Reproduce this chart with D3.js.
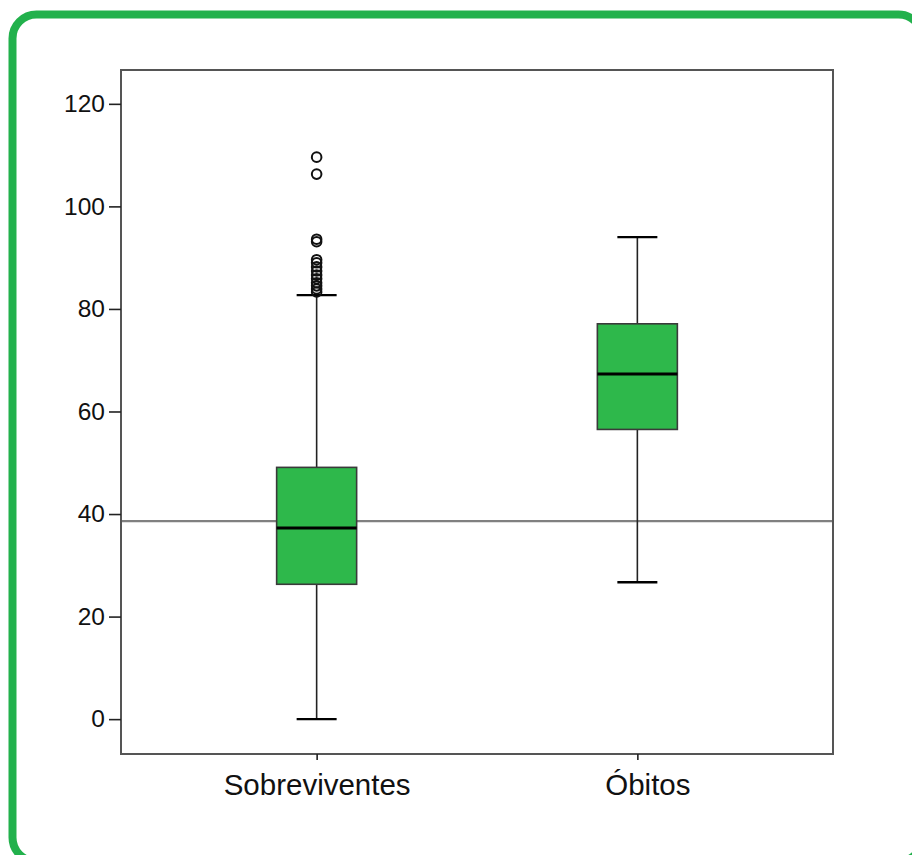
<!DOCTYPE html>
<html>
<head>
<meta charset="utf-8">
<script src="https://cdn.jsdelivr.net/npm/d3@7"></script>
<style>
  html, body { margin: 0; padding: 0; background: #fff; }
  svg { display: block; font-family: Arial, "Liberation Sans", sans-serif; }
</style>
</head>
<body>
<svg id="chart" width="912" height="855"></svg>
<script>
// ---- data ----
const categories = ["Sobreviventes", "Óbitos"];
const whiskerLow  = [0, 26.7];
const q1          = [26.3, 56.5];
const median      = [37.3, 67.3];
const q3          = [49.1, 77.1];
const whiskerHigh = [82.7, 94.0];
const outliersSobreviventes = [109.6, 106.3, 93.6, 93.1, 89.6, 89.0, 88.2, 87.4, 86.6, 85.9, 85.1, 84.5, 83.9, 83.3];
const outliersObitos = [];
const referenceLine = 38.6;
const yTicks = [0, 20, 40, 60, 80, 100, 120];

const outliers = [outliersSobreviventes, outliersObitos];
const boxes = categories.map((c, i) => ({
  cat: c, lo: whiskerLow[i], q1: q1[i], med: median[i], q3: q3[i], hi: whiskerHigh[i], out: outliers[i]
}));

// ---- layout ----
const svg = d3.select("#chart");
const plot = { left: 121, top: 70, right: 833, bottom: 754 };

// outer rounded green frame
svg.append("rect")
  .attr("x", 12.5).attr("y", 14.5)
  .attr("width", 910).attr("height", 847)
  .attr("rx", 24).attr("ry", 24)
  .attr("fill", "none")
  .attr("stroke", "#22b14c")
  .attr("stroke-width", 8);

const y = d3.scaleLinear().domain([-6.8, 126.6]).range([plot.bottom, plot.top]);
const x = d3.scalePoint().domain(categories).range([plot.left, plot.right]).padding(0.61);
const boxW = 80, capW = 40;

// reference line
svg.append("line")
  .attr("x1", plot.left).attr("x2", plot.right)
  .attr("y1", y(referenceLine)).attr("y2", y(referenceLine))
  .attr("stroke", "#808080").attr("stroke-width", 2.2);

const g = svg.selectAll("g.box").data(boxes).join("g").attr("class", "box");

// whiskers
g.append("line")
  .attr("x1", d => x(d.cat)).attr("x2", d => x(d.cat))
  .attr("y1", d => y(d.q3)).attr("y2", d => y(d.hi))
  .attr("stroke", "#222").attr("stroke-width", 1.6);
g.append("line")
  .attr("x1", d => x(d.cat)).attr("x2", d => x(d.cat))
  .attr("y1", d => y(d.q1)).attr("y2", d => y(d.lo))
  .attr("stroke", "#222").attr("stroke-width", 1.6);
// caps
g.append("line")
  .attr("x1", d => x(d.cat) - capW / 2).attr("x2", d => x(d.cat) + capW / 2)
  .attr("y1", d => y(d.hi)).attr("y2", d => y(d.hi))
  .attr("stroke", "#000").attr("stroke-width", 2.4);
g.append("line")
  .attr("x1", d => x(d.cat) - capW / 2).attr("x2", d => x(d.cat) + capW / 2)
  .attr("y1", d => y(d.lo)).attr("y2", d => y(d.lo))
  .attr("stroke", "#000").attr("stroke-width", 2.4);
// box
g.append("rect")
  .attr("x", d => x(d.cat) - boxW / 2)
  .attr("y", d => y(d.q3))
  .attr("width", boxW)
  .attr("height", d => y(d.q1) - y(d.q3))
  .attr("fill", "#2eb84b")
  .attr("stroke", "#3a3a3a").attr("stroke-width", 1.6);
// median
g.append("line")
  .attr("x1", d => x(d.cat) - boxW / 2).attr("x2", d => x(d.cat) + boxW / 2)
  .attr("y1", d => y(d.med)).attr("y2", d => y(d.med))
  .attr("stroke", "#000").attr("stroke-width", 3);
// outliers
g.selectAll("circle").data(d => d.out.map(v => ({ cat: d.cat, v }))).join("circle")
  .attr("cx", d => x(d.cat)).attr("cy", d => y(d.v))
  .attr("r", 4.8)
  .attr("fill", "none").attr("stroke", "#111").attr("stroke-width", 2);

// plot frame
svg.append("rect")
  .attr("x", plot.left).attr("y", plot.top)
  .attr("width", plot.right - plot.left).attr("height", plot.bottom - plot.top)
  .attr("fill", "none").attr("stroke", "#555").attr("stroke-width", 2);

// y axis
const yAxis = svg.append("g")
  .attr("transform", `translate(${plot.left},0)`)
  .call(d3.axisLeft(y).tickValues(yTicks).tickSize(12).tickPadding(4).tickFormat(d3.format("d")));
yAxis.select(".domain").remove();
yAxis.selectAll(".tick line").attr("stroke", "#222").attr("stroke-width", 1.6);
yAxis.selectAll(".tick text").attr("font-size", 24.5).attr("fill", "#111")
  .attr("font-family", "Arial, 'Liberation Sans', sans-serif");

// x axis
const xAxis = svg.append("g")
  .attr("transform", `translate(0,${plot.bottom})`)
  .call(d3.axisBottom(x).tickSize(6).tickPadding(14));
xAxis.select(".domain").remove();
xAxis.selectAll(".tick line").attr("stroke", "#222").attr("stroke-width", 1.6);
xAxis.selectAll(".tick text").attr("font-size", 29.5).attr("fill", "#111")
  .attr("font-family", "Arial, 'Liberation Sans', sans-serif")
  .attr("dx", (d, i) => i === 1 ? 10 : 0);
</script>
</body>
</html>
